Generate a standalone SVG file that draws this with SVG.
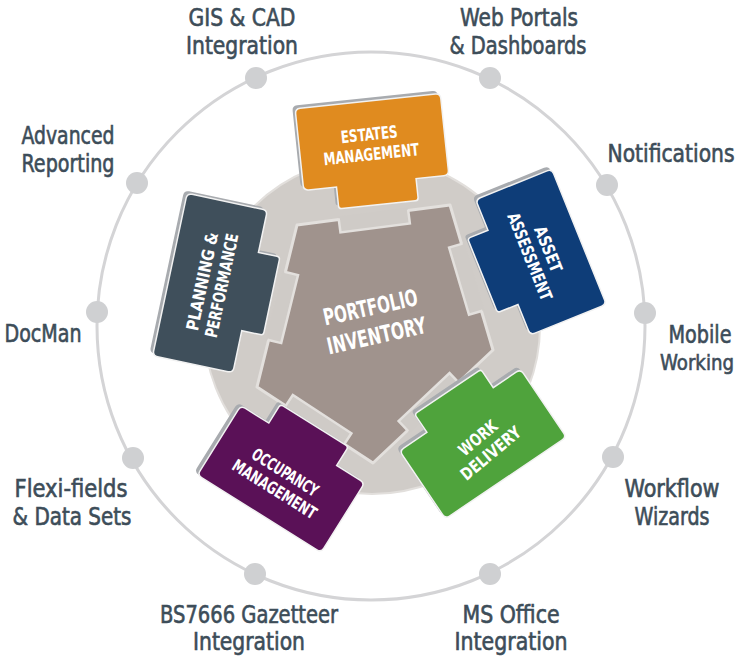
<svg xmlns="http://www.w3.org/2000/svg" width="745" height="660" viewBox="0 0 745 660">
<defs>
<style>
.lbl{font-family:"DejaVu Sans Condensed","DejaVu Sans","Liberation Sans",sans-serif;font-size:24px;fill:#3d4d59;stroke:#3d4d59;stroke-width:0.6;text-anchor:middle;font-stretch:condensed}
.mod{font-family:"DejaVu Sans Condensed","DejaVu Sans","Liberation Sans",sans-serif;font-weight:bold;font-size:17px;fill:#ffffff;text-anchor:middle;font-stretch:condensed}
.ring{fill:none;stroke:#d4d4d6;stroke-width:3}
.dot{fill:#cfd0d2}
.shadow{fill:#a8abaf}
.card{stroke:#f2f2f2;stroke-width:1.5}
.notch{fill:#cfcbc7}
.notchEdge{fill:none;stroke:#e3e0dd;stroke-width:2.5}
</style>
<path id="cardShape" d="M -68,-41 H 68 Q 73,-41 73,-36 V 36 Q 73,41 68,41 H 40 V 60 Q 40,63 37,63 H -37 Q -40,63 -40,60 V 41 H -68 Q -73,41 -73,36 V -36 Q -73,-41 -68,-41 Z"/>
<path id="cardLong" d="M -78,-41 H 78 Q 83,-41 83,-36 V 36 Q 83,41 78,41 H 40 V 60 Q 40,63 37,63 H -37 Q -40,63 -40,60 V 41 H -78 Q -83,41 -83,36 V -36 Q -83,-41 -78,-41 Z"/>
<g id="notchShape"><rect class="notch" x="-35" y="-3" width="70" height="16"/><polyline class="notchEdge" points="-35,-1 -35,13 35,13 35,-1"/></g>
</defs>
<rect width="745" height="660" fill="#ffffff"/>

<g id="connectors">
<circle class="ring" cx="371" cy="326" r="274"/>
</g>

<g id="hub">
<circle cx="372" cy="326" r="168" fill="#d0ccc8" stroke="#e2dfdc" stroke-width="2"/>
</g>

<g id="portfolio-inventory">
<polygon points="297,225 450,205 493,350 373,463 257,387" fill="#a0938d" stroke="#e3e0dd" stroke-width="3" stroke-linejoin="round"/>
<use href="#notchShape" transform="translate(373.5,215) rotate(-7.4)"/>
<use href="#notchShape" transform="translate(471.5,277.5) rotate(73.5)"/>
<use href="#notchShape" transform="translate(433,406.5) rotate(136.7)"/>
<use href="#notchShape" transform="translate(315,425) rotate(213.2)"/>
<use href="#notchShape" transform="translate(277,306) rotate(283.9)"/>
<g transform="translate(374,324) rotate(-12.5)">
<text class="mod" style="font-size:23px" x="0" y="-9" textLength="96" lengthAdjust="spacingAndGlyphs">PORTFOLIO</text>
<text class="mod" style="font-size:23px" x="0" y="20" textLength="101" lengthAdjust="spacingAndGlyphs">INVENTORY</text>
</g>
</g>

<g id="estates-management">
<use href="#cardShape" class="shadow" transform="translate(369,139) rotate(-6)"/>
<use href="#cardShape" class="card" fill="#e08b1f" transform="translate(372,142) rotate(-6)"/>
<g transform="translate(372,142) rotate(-6)">
<text class="mod" x="-2" y="-2" textLength="57" lengthAdjust="spacingAndGlyphs">ESTATES</text>
<text class="mod" x="-2" y="18" textLength="96" lengthAdjust="spacingAndGlyphs">MANAGEMENT</text>
</g>
</g>

<g id="asset-assessment">
<use href="#cardShape" class="shadow" transform="translate(538,249) rotate(68)"/>
<use href="#cardShape" class="card" fill="#0e3d78" transform="translate(541,252) rotate(68)"/>
<g transform="translate(541,252) rotate(68)">
<text class="mod" x="0" y="-2" textLength="48" lengthAdjust="spacingAndGlyphs">ASSET</text>
<text class="mod" x="0" y="18" textLength="93" lengthAdjust="spacingAndGlyphs">ASSESSMENT</text>
</g>
</g>

<g id="work-delivery">
<use href="#cardShape" class="shadow" transform="translate(480,441) rotate(146)"/>
<use href="#cardShape" class="card" fill="#4fa33c" transform="translate(483,444) rotate(146)"/>
<g transform="translate(483,444) rotate(-40)">
<text class="mod" x="0" y="-2" textLength="45" lengthAdjust="spacingAndGlyphs">WORK</text>
<text class="mod" x="0" y="18" textLength="73" lengthAdjust="spacingAndGlyphs">DELIVERY</text>
</g>
</g>

<g id="occupancy-management">
<use href="#cardShape" class="shadow" transform="translate(278,476) rotate(212)"/>
<use href="#cardShape" class="card" fill="#5a1157" transform="translate(281,479) rotate(212)"/>
<g transform="translate(281,479) rotate(32)">
<text class="mod" x="0" y="-2" textLength="75" lengthAdjust="spacingAndGlyphs">OCCUPANCY</text>
<text class="mod" x="0" y="18" textLength="96" lengthAdjust="spacingAndGlyphs">MANAGEMENT</text>
</g>
</g>

<g id="planning-performance">
<use href="#cardLong" class="shadow" transform="translate(207,280) rotate(-78)"/>
<use href="#cardLong" class="card" fill="#3f4f5b" transform="translate(210,283) rotate(-78)"/>
<g transform="translate(210,283) rotate(-78)">
<text class="mod" x="0" y="-2" textLength="100" lengthAdjust="spacingAndGlyphs">PLANNING &amp;</text>
<text class="mod" x="0" y="18" textLength="106" lengthAdjust="spacingAndGlyphs">PERFORMANCE</text>
</g>
</g>

<g id="gis-cad">
<circle class="dot" cx="256" cy="78" r="11"/>
<text class="lbl" x="242" y="26" textLength="107" lengthAdjust="spacingAndGlyphs">GIS &amp; CAD</text>
<text class="lbl" x="242" y="54" textLength="112" lengthAdjust="spacingAndGlyphs">Integration</text>
</g>
<g id="web-portals">
<circle class="dot" cx="490" cy="78" r="11"/>
<text class="lbl" x="519" y="26" textLength="118" lengthAdjust="spacingAndGlyphs">Web Portals</text>
<text class="lbl" x="518" y="54" textLength="137" lengthAdjust="spacingAndGlyphs">&amp; Dashboards</text>
</g>
<g id="notifications">
<circle class="dot" cx="607" cy="185" r="11"/>
<text class="lbl" x="671" y="162" textLength="127" lengthAdjust="spacingAndGlyphs">Notifications</text>
</g>
<g id="mobile-working">
<circle class="dot" cx="645" cy="313" r="11"/>
<text class="lbl" x="700" y="343" textLength="63" lengthAdjust="spacingAndGlyphs">Mobile</text>
<text class="lbl" style="font-size:22px" x="697" y="370" textLength="74" lengthAdjust="spacingAndGlyphs">Working</text>
</g>
<g id="workflow-wizards">
<circle class="dot" cx="613" cy="457" r="11"/>
<text class="lbl" x="672" y="497" textLength="95" lengthAdjust="spacingAndGlyphs">Workflow</text>
<text class="lbl" x="672" y="525" textLength="75" lengthAdjust="spacingAndGlyphs">Wizards</text>
</g>
<g id="ms-office">
<circle class="dot" cx="490" cy="574" r="11"/>
<text class="lbl" x="511" y="623" textLength="97" lengthAdjust="spacingAndGlyphs">MS Office</text>
<text class="lbl" x="511" y="650" textLength="113" lengthAdjust="spacingAndGlyphs">Integration</text>
</g>
<g id="bs7666">
<circle class="dot" cx="255" cy="574" r="11"/>
<text class="lbl" x="249" y="623" textLength="178" lengthAdjust="spacingAndGlyphs">BS7666 Gazetteer</text>
<text class="lbl" x="249" y="650" textLength="112" lengthAdjust="spacingAndGlyphs">Integration</text>
</g>
<g id="flexi-fields">
<circle class="dot" cx="133" cy="458" r="11"/>
<text class="lbl" x="71" y="497" textLength="113" lengthAdjust="spacingAndGlyphs">Flexi-fields</text>
<text class="lbl" x="72" y="525" textLength="119" lengthAdjust="spacingAndGlyphs">&amp; Data Sets</text>
</g>
<g id="docman">
<circle class="dot" cx="97" cy="312" r="11"/>
<text class="lbl" x="43" y="342" textLength="77" lengthAdjust="spacingAndGlyphs">DocMan</text>
</g>
<g id="advanced-reporting">
<circle class="dot" cx="137" cy="183" r="11"/>
<text class="lbl" x="68" y="144" textLength="93" lengthAdjust="spacingAndGlyphs">Advanced</text>
<text class="lbl" x="68" y="172" textLength="93" lengthAdjust="spacingAndGlyphs">Reporting</text>
</g>
</svg>
